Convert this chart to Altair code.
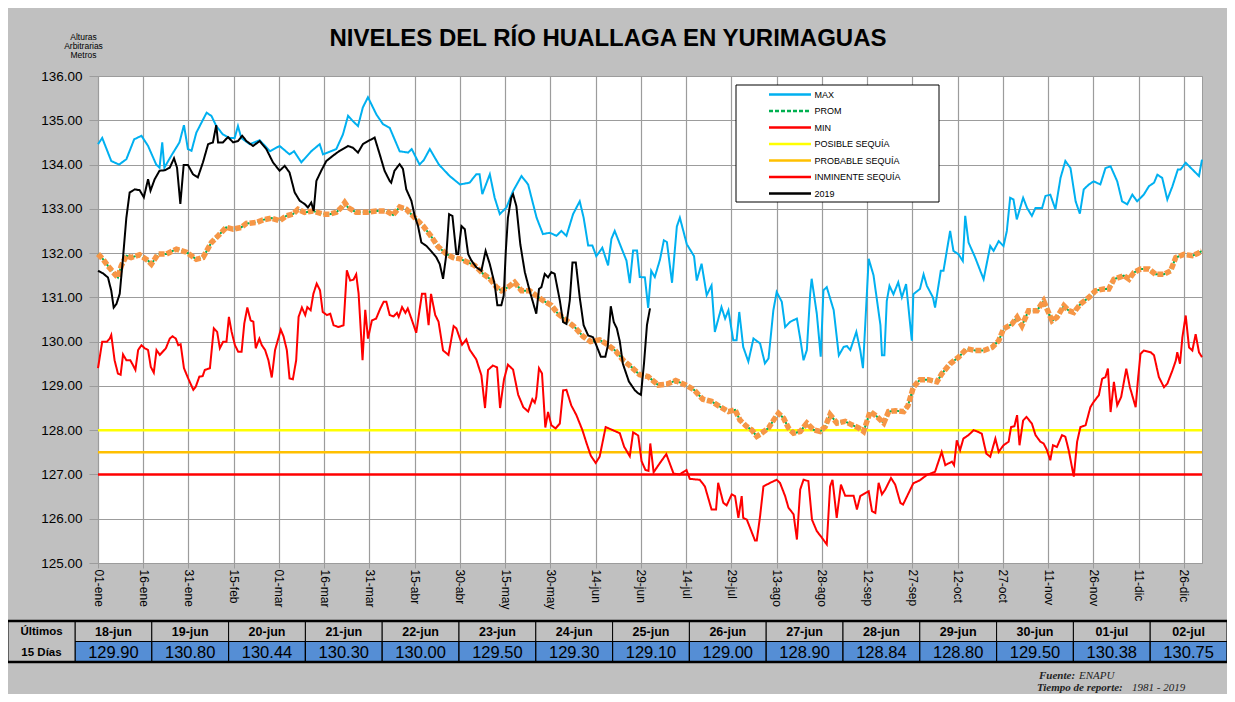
import altair as alt
import pandas as pd

# ---------------- DATA ----------------
dias_max = [0, 1.4, 4.4, 7, 9.4, 12, 14.4, 16.6, 19.3, 20.4, 21.3, 22, 24.3, 27, 28.5, 29.8, 31, 32.6, 36, 37.6,
            39.2, 41.4, 43.6, 45.3, 46.4, 47.5, 50.3, 53.6, 57, 60.2, 63.5, 65, 67.4, 70.7, 73.5, 74.6, 79, 81.2,
            82.9, 84.5, 86.2, 87.8, 89.5, 92.3, 94.5, 96.7, 100, 102.8, 104, 106.6, 108, 110, 113, 116.6, 120,
            123.2, 125.4, 126.5, 127.4, 129.9, 131.5, 133.2, 135.4, 137.6, 140.4, 142.6, 145.4, 147.5, 149.8, 152,
            153.6, 155.3, 157.5, 159.7, 161, 162.5, 163.9, 165.2, 167.2, 169.1, 170.2, 171.3, 173.5, 175.2, 176.3,
            177.4, 178.7, 179.6, 181.3, 182.4, 183.4, 184.6, 186.3, 187.6, 188.6, 190.3, 191.9, 192.9, 195.2,
            197.6, 198.5, 200.1, 201.8, 203.4, 204.5, 206.7, 207.9, 209, 210.6, 211.7, 212.6, 213.9, 215.6, 217.3,
            219.5, 221.1, 222.3, 223.9, 225, 226.7, 227.8, 229.5, 231.7, 232.8, 233.9, 235, 236.1, 236.6, 238.3,
            239.6, 240.5, 241.6, 243.9, 245.6, 247.2, 248.3, 249.4, 251.4, 252.7, 253.6, 255.5, 257.1, 259.4,
            259.9, 260.7, 261.5, 262.4, 263.7, 265.3, 266.5, 267.9, 269.8, 270.3, 272.5, 273.7, 274.8, 276.8,
            277.5, 279.4, 280.3, 282.5, 283.6, 285.3, 286.7, 287.5, 288.6, 290.8, 292.5, 293.6, 295.8, 296.9,
            298.6, 300.2, 301.3, 302.4, 303.5, 304.6, 306.7, 308, 309.6, 310.8, 313, 314.1, 315.7, 317.4, 319.1,
            320.7, 322.4, 324.1, 325.5, 326.8, 328.5, 330.1, 332.3, 334, 335.7, 337.9, 339.5, 341.2, 342.9, 344.5,
            346.7, 348.4, 350.1, 351.2, 352.8, 354.5, 356.2, 358, 358.9, 360.6, 362.8, 365, 366]
niveles_max = [134.46, 134.6, 134.08, 134.0, 134.12, 134.57, 134.65, 134.42, 134.0, 133.93, 134.5, 133.93, 134.2,
               134.5, 134.89, 134.35, 134.31, 134.72, 135.17, 135.1, 134.87, 134.68, 134.6, 134.6, 134.87, 134.6,
               134.46, 134.55, 134.3, 134.42, 134.23, 134.3, 134.05, 134.3, 134.46, 134.23, 134.35, 134.68, 135.1,
               134.98, 134.87, 135.29, 135.52, 135.13, 134.91, 134.83, 134.3, 134.27, 134.35, 134.0, 134.1, 134.35,
               134.0, 133.74, 133.55, 133.59, 133.78, 133.78, 133.33, 133.78, 133.25, 132.88, 133.03, 133.4,
               133.74, 133.55, 132.8, 132.43, 132.46, 132.39, 132.5, 132.39, 132.88, 133.17, 132.8, 132.17, 132.17,
               131.93, 132.12, 131.72, 132.32, 132.5, 132.12, 131.83, 131.32, 132.06, 132.06, 131.46, 131.45,
               130.76, 131.6, 131.46, 131.85, 132.29, 132.25, 131.33, 132.6, 132.8, 132.2, 131.93, 131.38, 131.76,
               131.05, 131.27, 130.22, 130.78, 130.52, 130.71, 130.03, 130.03, 130.67, 129.88, 129.55, 130.07,
               129.96, 129.51, 129.62, 130.71, 131.12, 130.9, 130.33, 130.45, 130.52, 130.07, 129.58, 129.81,
               131.08, 131.42, 130.63, 129.66, 131.16, 131.23, 130.71, 129.69, 129.88, 129.9, 129.81, 130.22,
               129.81, 129.4, 131.87, 131.5, 130.37, 129.69, 129.69, 130.92, 131.26, 131.07, 131.34, 131.0, 131.3,
               130.02, 131.07, 131.19, 131.52, 131.26, 131.0, 130.77, 131.6, 131.6, 132.5, 132.05, 131.97, 131.82,
               132.84, 132.24, 131.9, 131.6, 131.41, 132.16, 132.05, 132.27, 132.16, 132.5, 133.25, 133.21, 132.76,
               133.25, 133.02, 132.84, 133.02, 133.02, 133.29, 133.32, 132.99, 133.7, 134.08, 133.92, 133.17,
               132.89, 133.44, 133.55, 133.62, 133.55, 133.92, 133.96, 133.62, 133.17, 133.1, 133.32, 133.17,
               133.32, 133.51, 133.59, 133.77, 133.7, 133.21, 133.51, 133.89, 133.89, 134.04, 133.89, 133.74,
               134.11]

dias_prom = [0, 1.7, 3.3, 5.5, 6.6, 7.7, 9.4, 11, 13.8, 16.6, 17.7, 19.9, 22.7, 26, 29.3, 31, 32.6, 34.8, 37.6,
             39.8, 42.5, 44.8, 47.5, 49.2, 52.5, 54.7, 57.5, 60.2, 62.4, 64.6, 66.3, 68.5, 71.3, 74.6, 76.8, 79,
             80.7, 81.8, 82.9, 85.6, 89, 92.3, 95.6, 97.8, 100, 102.2, 103.5, 105, 107.7, 110.2, 112.7, 115.5,
             117.7, 120, 122.7, 124.9, 127.7, 129.9, 132.1, 133.7, 135.9, 138.1, 140.4, 143.1, 145.3, 147.5,
             150.3, 152.5, 155.3, 158, 160.8, 163.3, 166.3, 168.8, 171.6, 174.1, 176.8, 179.6, 182.4, 185.7,
             188.6, 191.5, 194.8, 197.6, 200.5, 203.4, 206.2, 209, 211.2, 212.8, 215.1, 216.7, 218.4, 220, 222.3,
             224, 225.6, 227.3, 228.9, 230.6, 232.8, 235, 237.2, 239.4, 241.1, 242.7, 245, 247.7, 249.9, 252.2,
             253.8, 256, 258.2, 260.5, 262.1, 264.3, 267.1, 268.5, 270.3, 272.5, 275.3, 278.1, 279.7, 282.5,
             285.3, 288, 290.8, 293.6, 296.4, 298.6, 300.2, 303, 304.7, 306.3, 308.5, 311.3, 313.5, 314.6, 316.3,
             317.9, 320.2, 321.8, 323.5, 325.7, 328.5, 330.7, 333.4, 335.1, 336.8, 340.1, 341.8, 343.4, 345.6,
             348.4, 350.6, 353.4, 355.6, 357.3, 360, 362.8, 364.5, 366]
niveles_prom = [131.98, 131.86, 131.71, 131.53, 131.45, 131.71, 131.94, 131.9, 131.96, 131.83, 131.75, 131.98,
                131.98, 132.09, 132.02, 131.94, 131.86, 131.9, 132.24, 132.39, 132.58, 132.54, 132.58, 132.67,
                132.69, 132.75, 132.79, 132.73, 132.84, 132.88, 132.99, 132.92, 132.95, 132.88, 132.88, 132.92,
                133.03, 133.14, 133.03, 132.92, 132.92, 132.95, 132.95, 132.86, 133.04, 132.99, 132.9, 132.8,
                132.62, 132.4, 132.15, 131.98, 131.9, 131.87, 131.79, 131.72, 131.53, 131.42, 131.23, 131.15,
                131.23, 131.34, 131.15, 131.15, 131.04, 130.93, 130.82, 130.63, 130.48, 130.33, 130.12, 130.0,
                130.04, 129.94, 129.79, 129.58, 129.43, 129.25, 129.21, 129.02, 129.04, 129.12, 129.02, 128.91,
                128.7, 128.65, 128.53, 128.42, 128.46, 128.23, 128.08, 128.01, 127.86, 127.93, 128.05, 128.23,
                128.38, 128.27, 128.05, 127.93, 127.97, 128.16, 128.01, 127.97, 128.08, 128.35, 128.16, 128.2,
                128.12, 128.05, 127.97, 128.42, 128.31, 128.16, 128.42, 128.44, 128.42, 128.55, 128.97, 129.14,
                129.14, 129.09, 129.27, 129.5, 129.65, 129.84, 129.8, 129.8, 129.87, 130.02, 130.29, 130.4, 130.55,
                130.36, 130.7, 130.7, 130.92, 130.74, 130.47, 130.55, 130.81, 130.7, 130.66, 130.85, 131.0, 131.15,
                131.19, 131.19, 131.41, 131.49, 131.41, 131.56, 131.64, 131.64, 131.52, 131.52, 131.6, 131.9,
                131.97, 131.94, 131.99, 132.05]

dias_min = [0, 1.4, 3, 3.9, 4.4, 5.5, 6.6, 7.5, 8.3, 9.4, 10.7, 11.6, 12.4, 13.3, 14.4, 15.5, 16.6, 17.5, 18.5,
            19.4, 20.5, 22.5, 23.8, 24.7, 25.8, 26.6, 27.4, 28.5, 29.9, 31.6, 32.4, 33.6, 34.7, 35.4, 37.1, 38.4,
            39.5, 40.4, 41.5, 42.6, 43.4, 44.3, 45.4, 46.5, 47.6, 48.5, 49.5, 50.6, 51.5, 52.3, 53.5, 54.3, 55.4,
            56.5, 57.6, 58.7, 60.6, 61.5, 62.6, 63.5, 64.6, 65.7, 66.5, 67.6, 68.7, 69.4, 70.5, 71.4, 72.5, 73.6,
            74.5, 75.9, 77, 78.1, 79.7, 81.4, 82.5, 83.6, 84.7, 85.6, 86.4, 87.7, 88.6, 89.5, 90.8, 92.2, 93.6,
            94.7, 95.6, 96.7, 98, 99.1, 99.7, 100.8, 101.9, 102.7, 104.1, 105.5, 107.4, 108.5, 109.6, 110.4,
            111.8, 112.9, 114.4, 116.2, 117.9, 118.8, 120.7, 122.1, 123.2, 125.4, 127.1, 128.3, 129.3, 130.9,
            132.3, 133.3, 134.6, 135.9, 137.6, 139.3, 141, 142.6, 144, 144.8, 145.3, 146.2, 147.2, 148.3, 149.2,
            150.3, 151.7, 153.1, 154.2, 155.3, 156.9, 158.6, 160.6, 161.9, 163.4, 165, 166.3, 168.3, 170.7, 173,
            174.4, 176.3, 177.4, 179.1, 180.2, 181.5, 182.5, 183.1, 184.2, 186.2, 188.4, 190.8, 192.8, 195.1,
            196.2, 199.5, 201.2, 202.3, 203.4, 204.9, 205.6, 207.3, 208.4, 210.1, 211.2, 212.3, 213.4, 213.9,
            215.1, 217.8, 218.4, 219.5, 220.6, 222.8, 225, 226.1, 227.8, 228.9, 230.6, 231.7, 232.8, 233.9,
            235.5, 236.7, 238.3, 240, 241.6, 242.7, 243.5, 244.9, 246.3, 247.7, 250.5, 251.6, 252.7, 254.4,
            255.5, 256.6, 257.7, 258.8, 259.9, 261, 262.9, 264.3, 266, 266.9, 269.3, 270.3, 272.5, 274.8, 277.5,
            279.7, 280.9, 283.1, 283.8, 284.7, 285.8, 286.9, 288.6, 290.3, 291.9, 293, 294.5, 295.8, 297.5,
            298.6, 300.2, 301.9, 302.7, 303.8, 304.7, 305.5, 306.7, 307.8, 309.6, 310.8, 312.4, 313.5, 314.6,
            315.7, 316.6, 317.9, 319.6, 320.7, 321.8, 323.5, 324.6, 325.7, 327.4, 329, 330.1, 331.8, 332.9, 334,
            334.8, 335.7, 336.8, 337.9, 339.2, 340.9, 342.1, 344, 344.8, 345.6, 346.7, 349, 350.1, 351.7, 353.4,
            354.5, 356.2, 357.3, 357.8, 358.7, 359.5, 360.6, 361.7, 362.8, 363.9, 365, 366]
niveles_min = [129.4, 130.0, 130.0, 130.07, 130.15, 129.58, 129.28, 129.25, 129.71, 129.58, 129.58, 129.47,
               129.36, 129.81, 129.92, 129.85, 129.81, 129.43, 129.3, 129.81, 129.7, 129.85, 130.07, 130.12,
               130.07, 129.92, 129.94, 129.4, 129.17, 128.91, 128.98, 129.21, 129.22, 129.36, 129.4, 130.3, 130.22,
               129.85, 130.0, 130.0, 130.56, 130.22, 129.92, 129.77, 129.77, 130.41, 130.77, 130.48, 130.45,
               129.85, 130.07, 129.92, 129.81, 129.58, 129.19, 129.81, 130.27, 130.12, 129.81, 129.17, 129.15,
               129.58, 130.56, 130.77, 130.6, 130.78, 130.71, 131.08, 131.31, 131.16, 130.67, 130.6, 130.63,
               130.37, 130.33, 130.37, 131.61, 131.38, 131.4, 131.52, 131.08, 129.58, 130.72, 130.07, 130.48,
               130.52, 130.75, 130.9, 130.9, 130.6, 130.57, 130.65, 130.56, 130.78, 130.65, 130.75, 130.48, 130.2,
               131.08, 131.08, 130.37, 131.08, 130.6, 130.45, 129.8, 129.7, 130.35, 130.3, 129.93, 130.05, 129.82,
               129.6, 129.24, 128.5, 129.36, 129.46, 129.42, 128.5, 129.15, 129.48, 129.37, 128.8, 128.52, 128.42,
               128.7, 128.62, 128.75, 129.4, 129.28, 128.06, 128.41, 128.11, 128.04, 128.15, 128.9, 128.91, 128.56,
               128.34, 128.0, 127.72, 127.42, 127.26, 127.4, 128.07, 128.0, 127.93, 127.63, 127.41, 127.95, 127.88,
               127.3, 127.1, 127.08, 127.7, 127.05, 127.25, 127.46, 127.02, 127.0, 127.1, 126.9, 126.88, 126.73,
               126.47, 126.21, 126.21, 126.81, 126.36, 126.3, 126.55, 126.51, 126.02, 126.51, 126.02, 125.98,
               125.51, 125.51, 126.06, 126.73, 126.81, 126.88, 126.81, 126.51, 126.25, 126.1, 125.53, 126.66,
               126.88, 126.85, 125.98, 125.72, 125.57, 125.42, 126.73, 126.88, 126.02, 126.77, 126.52, 126.52,
               126.21, 126.51, 126.58, 126.62, 126.17, 126.13, 126.81, 126.55, 126.66, 126.92, 126.77, 126.36,
               126.32, 126.66, 126.8, 126.87, 126.99, 127.06, 127.51, 127.21, 127.29, 127.21, 127.77, 127.55,
               127.81, 127.89, 128.0, 127.96, 127.92, 127.47, 127.4, 127.81, 127.51, 127.66, 127.74, 128.07,
               128.09, 128.34, 127.66, 128.22, 128.3, 128.15, 127.89, 127.74, 127.7, 127.55, 127.32, 127.66,
               127.62, 127.89, 127.85, 127.55, 126.95, 127.74, 128.07, 128.11, 128.52, 128.64, 128.79, 129.16,
               129.2, 129.39, 128.41, 129.09, 128.56, 128.75, 129.39, 128.97, 128.52, 129.16, 129.72, 129.8,
               129.76, 129.69, 129.2, 128.97, 129.05, 129.35, 129.57, 129.76, 129.5, 130.1, 130.59, 129.87, 129.8,
               130.17, 129.76, 129.65]

dias_2019 = [0, 1.7, 3.3, 4.4, 5.2, 6.1, 7.2, 8.3, 9.4, 10.5, 12.2, 13.8, 15.2, 16.6, 17.4, 18.8, 20.4, 22.1,
             23.8, 25.2, 26.2, 27.3, 28.4, 29.8, 31.5, 33.1, 34.8, 36.5, 38.1, 39.2, 39.8, 41.4, 43.1, 44.8, 46.4,
             47.8, 49.2, 51.4, 53.6, 55.8, 58, 60.2, 61.9, 63.5, 65.2, 66.9, 68.5, 69.6, 70.7, 71.5, 72.4, 74,
             75.7, 77.9, 80.1, 82.9, 84.5, 86.2, 87.8, 90.1, 91.7, 93.4, 95, 96.7, 97.2, 98.3, 100, 101.1, 102.2,
             103.9, 105, 106.1, 107.2, 108.9, 110.5, 112.2, 113.3, 114.4, 115.5, 116.4, 117.5, 118.8, 119.4,
             120.5, 121.6, 122.7, 123.8, 125.4, 127.1, 128.5, 129.9, 131.5, 132.4, 133.7, 134.5, 135.2, 135.9,
             137, 137.6, 138.7, 140, 141.5, 143.1, 144.2, 145.3, 146.2, 147, 148.1, 149.2, 150.3, 151.4, 153.1,
             154.2, 155.3, 156.4, 157.3, 158.4, 159.7, 161, 162.5, 164.1, 165.2, 166.7, 168.2,
             169, 170, 171, 172, 173, 174, 175, 176, 177, 178, 179, 180, 181, 182, 183]
niveles_2019 = [131.6, 131.54, 131.45, 131.15, 130.77, 130.85, 131.08, 131.9, 132.8, 133.37, 133.44, 133.42,
                133.26, 133.67, 133.41, 133.67, 133.86, 133.87, 133.93, 134.14, 133.93, 133.11, 133.99, 133.99,
                133.78, 133.71, 134.05, 134.46, 134.5, 134.89, 134.5, 134.5, 134.62, 134.5, 134.53, 134.65,
                134.53, 134.42, 134.53, 134.35, 134.05, 133.86, 133.97, 133.82, 133.37, 133.18, 133.11, 133.03,
                133.14, 132.95, 133.63, 133.86, 134.08, 134.2, 134.31, 134.42, 134.38, 134.27, 134.46, 134.55,
                134.61, 134.23, 133.86, 133.63, 133.59, 133.86, 134.01, 133.9, 133.44, 133.18, 132.84, 132.61,
                132.24, 132.16, 132.04, 131.9, 131.75, 131.42, 131.98, 132.88, 132.84, 131.98, 131.98, 132.61,
                132.54, 131.98, 131.83, 131.68, 131.6, 132.05, 131.75, 131.3, 130.82, 130.82, 131.04, 132.05,
                132.8, 133.25, 133.33, 133.06, 132.2, 131.57, 131.15, 130.89, 130.63, 131.19, 131.23, 131.53,
                131.45, 131.57, 131.53, 130.93, 130.44, 130.4, 130.93, 131.79, 131.79, 131.0, 130.37, 130.14,
                130.1, 129.92, 129.66, 129.66,
                129.90, 130.80, 130.44, 130.30, 130.00, 129.50, 129.30, 129.10, 129.00, 128.90, 128.84, 128.80,
                129.50, 130.38, 130.75]

umbral_nombres = ["POSIBLE SEQUÍA", "PROBABLE SEQUÍA", "INMINENTE SEQUÍA"]
umbral_niveles = [128.0, 127.5, 127.0]

serie_nombres = ["MAX", "PROM", "MIN", "POSIBLE SEQUÍA", "PROBABLE SEQUÍA", "INMINENTE SEQUÍA", "2019"]
serie_colores = ["#00b0f0", "#00b050", "#ff0000", "#ffff00", "#ffc000", "#ff0000", "#000000"]
serie_trazos = [[1, 0], [4, 2], [1, 0], [1, 0], [1, 0], [1, 0], [1, 0]]

eje_x_dias = list(range(0, 361, 15))
eje_x_etiquetas = ["01-ene", "16-ene", "31-ene", "15-feb", "01-mar", "16-mar", "31-mar", "15-abr", "30-abr",
                   "15-may", "30-may", "14-jun", "29-jun", "14-jul", "29-jul", "13-ago", "28-ago", "12-sep",
                   "27-sep", "12-oct", "27-oct", "11-nov", "26-nov", "11-dic", "26-dic"]
eje_y_valores = list(range(125, 137))

tabla_fechas = ["18-jun", "19-jun", "20-jun", "21-jun", "22-jun", "23-jun", "24-jun", "25-jun", "26-jun",
                "27-jun", "28-jun", "29-jun", "30-jun", "01-jul", "02-jul"]
tabla_valores = [129.90, 130.80, 130.44, 130.30, 130.00, 129.50, 129.30, 129.10, 129.00, 128.90, 128.84,
                 128.80, 129.50, 130.38, 130.75]

# ---------------- FRAMES ----------------
def serie_df(nombre, dias, niveles):
    return pd.DataFrame({"serie": nombre, "dia": dias, "nivel": niveles})

df_max = serie_df("MAX", dias_max, niveles_max)
df_prom = serie_df("PROM", dias_prom, niveles_prom)
df_min = serie_df("MIN", dias_min, niveles_min)
df_2019 = serie_df("2019", dias_2019, niveles_2019)
df_umbral = pd.DataFrame({"serie": umbral_nombres, "nivel": umbral_niveles})

FONT = "Liberation Sans"
SERIF = "Liberation Serif"
GRID = "#9c9c9c"

label_expr = "[" + ",".join("'%s'" % s for s in eje_x_etiquetas) + "][round(datum.value/15)]"

x_enc = alt.X("dia:Q",
              scale=alt.Scale(domain=[0, 366], nice=False, zero=False),
              axis=alt.Axis(values=eje_x_dias, labelExpr=label_expr, labelAngle=90, labelAlign="left",
                            labelBaseline="middle", labelFont=FONT, labelFontSize=12, labelColor="black",
                            labelPadding=1, tickSize=5, tickColor=GRID, domainColor=GRID,
                            grid=True, gridColor=GRID, gridWidth=1.2, title=None, labelOverlap=False))
y_enc = alt.Y("nivel:Q",
              scale=alt.Scale(domain=[125, 136], nice=False, zero=False),
              axis=alt.Axis(values=eje_y_valores, format=".2f", labelFont=FONT, labelFontSize=13.5,
                            labelColor="black", labelPadding=7, tickSize=9, tickColor=GRID, domainColor=GRID,
                            grid=True, gridColor=GRID, gridWidth=1.2,
                            title=["Alturas", "Arbitrarias", "Metros"], titleAngle=0, titleFont=FONT,
                            titleFontSize=8.5, titleFontWeight="normal", titleLineHeight=9,
                            titleAlign="center", titleBaseline="top", titleX=-15, titleY=-44,
                            titleColor="black"))

leyenda = alt.Legend(title=None, orient="none", legendX=671, legendY=14, symbolType="M-7,0H7",
                     symbolSize=36, symbolStrokeWidth=2.5, symbolOffset=16.5, labelOffset=20,
                     labelFont=FONT, labelFontSize=9, labelColor="black", rowPadding=5.5, padding=0,
                     labelLimit=300)
color_enc = alt.Color("serie:N", scale=alt.Scale(domain=serie_nombres, range=serie_colores), legend=leyenda)
dash_enc = alt.StrokeDash("serie:N", scale=alt.Scale(domain=serie_nombres, range=serie_trazos), legend=leyenda)

umbrales = alt.Chart(df_umbral).mark_rule(strokeWidth=2.5).encode(y=y_enc, color=color_enc, strokeDash=dash_enc)
linea_max = alt.Chart(df_max).mark_line(strokeWidth=2).encode(x=x_enc, y=y_enc, color=color_enc, strokeDash=dash_enc)
prom_verde = alt.Chart(df_prom).mark_line(strokeWidth=2).encode(x=x_enc, y=y_enc, color=color_enc, strokeDash=dash_enc)
prom_naranja = alt.Chart(df_prom).mark_line(strokeWidth=5.5, color="#f79646", strokeDash=[6, 2]).encode(x=x_enc, y=y_enc)
linea_min = alt.Chart(df_min).mark_line(strokeWidth=2).encode(x=x_enc, y=y_enc, color=color_enc, strokeDash=dash_enc)
linea_2019 = alt.Chart(df_2019).mark_line(strokeWidth=2).encode(x=x_enc, y=y_enc, color=color_enc, strokeDash=dash_enc)

uno = pd.DataFrame({"k": [0]})
marco = alt.Chart(uno).mark_rect(fill="white", stroke="black", strokeWidth=1).encode(
    x=alt.value(638), x2=alt.value(841), y=alt.value(9), y2=alt.value(126))

def pie(texto, xx, yy, negrita):
    kw = dict(text=texto, font=SERIF, fontSize=11, fontStyle="italic", align="left",
              baseline="alphabetic", color="#222222")
    if negrita:
        kw["fontWeight"] = "bold"
    return alt.Chart(uno).mark_text(**kw).encode(x=alt.value(xx), y=alt.value(yy))

pie_1 = pie("Fuente:", 941, 603, True)
pie_1b = pie("ENAPU", 981, 603, False)
pie_2 = pie("Tiempo de reporte:", 939, 615, True)
pie_2b = pie("1981 - 2019", 1034, 615, False)

principal = alt.layer(umbrales, linea_max, prom_verde, prom_naranja, linea_min, linea_2019, marco,
                      pie_1, pie_1b, pie_2, pie_2b)

# ---------------- TABLE (own scales) ----------------
n = len(tabla_fechas)
df_tab = pd.DataFrame({
    "fecha": tabla_fechas,
    "valor": ["%.2f" % v for v in tabla_valores],
    "c0": list(range(n)),
    "c1": [i + 1 for i in range(n)],
    "cm": [i + 0.5 for i in range(n)],
})
xt = alt.Scale(domain=[0, n], range=[-23, 1129], nice=False, zero=False)
yt = alt.Scale(domain=[0, 2], range=[545, 586], nice=False, zero=False)
BLUE = "#558ed5"

df_tab_h = df_tab.assign(r0=0, r1=1, rm=0.5)
df_tab_v = df_tab.assign(r0=1, r1=2, rm=1.5)

cab_rect = alt.Chart(df_tab_h).mark_rect(fill="#c0c0c0", stroke="black", strokeWidth=1).encode(
    x=alt.X("c0:Q", scale=xt, axis=None), x2="c1:Q",
    y=alt.Y("r0:Q", scale=yt, axis=None), y2="r1:Q")
val_rect = alt.Chart(df_tab_v).mark_rect(fill=BLUE, stroke="black", strokeWidth=1.2).encode(
    x=alt.X("c0:Q", scale=xt, axis=None), x2="c1:Q",
    y=alt.Y("r0:Q", scale=yt, axis=None), y2="r1:Q")
cab_txt = alt.Chart(df_tab_h).mark_text(font=FONT, fontSize=12.5, fontWeight="bold", color="black",
                                        baseline="middle", dy=1).encode(
    x=alt.X("cm:Q", scale=xt, axis=None), y=alt.Y("rm:Q", scale=yt, axis=None), text="fecha:N")
val_txt = alt.Chart(df_tab_v).mark_text(font=FONT, fontSize=16.5, color="black", baseline="middle", dy=1).encode(
    x=alt.X("cm:Q", scale=xt, axis=None), y=alt.Y("rm:Q", scale=yt, axis=None), text="valor:N")

ancho_rot = -67.0 / ((1129 + 23) / n)
df_rot = pd.DataFrame({"a": [ancho_rot], "b": [0], "r0": [0], "r1": [2]})
rot_rect = alt.Chart(df_rot).mark_rect(fill="#c0c0c0", stroke="black", strokeWidth=1).encode(
    x=alt.X("a:Q", scale=xt, axis=None), x2="b:Q",
    y=alt.Y("r0:Q", scale=yt, axis=None), y2="r1:Q")
df_rot_t = pd.DataFrame({"t": ["Últimos", "15 Días"], "xm": [ancho_rot / 2] * 2, "ym": [0.5, 1.5]})
rot_txt = alt.Chart(df_rot_t).mark_text(font=FONT, fontSize=11.5, fontWeight="bold", color="black",
                                        baseline="middle", dy=1).encode(
    x=alt.X("xm:Q", scale=xt, axis=None), y=alt.Y("ym:Q", scale=yt, axis=None), text="t:N")
df_bordes = pd.DataFrame({"a": [ancho_rot, ancho_rot], "b": [n, n], "yy": [0, 2]})
bordes = alt.Chart(df_bordes).mark_rule(color="black", strokeWidth=2.5).encode(
    x=alt.X("a:Q", scale=xt, axis=None), x2="b:Q", y=alt.Y("yy:Q", scale=yt, axis=None))

tabla = alt.layer(cab_rect, val_rect, rot_rect, bordes, cab_txt, val_txt, rot_txt)

chart = alt.layer(principal, tabla).resolve_scale(x="independent", y="independent").properties(
    width=1104, height=487,
    autosize=alt.AutoSizeParams(type="none"),
    padding={"left": 90, "top": 68, "right": 25, "bottom": 131},
    title=alt.TitleParams("NIVELES DEL RÍO HUALLAGA EN YURIMAGUAS", font=FONT, fontSize=24,
                          fontWeight="bold", color="black", anchor="middle", dx=-42, dy=23),
).configure(background="#c0c0c0").configure_view(fill="white", stroke=GRID)

chart.save("out.html", embed_options={"renderer": "svg", "actions": False})
